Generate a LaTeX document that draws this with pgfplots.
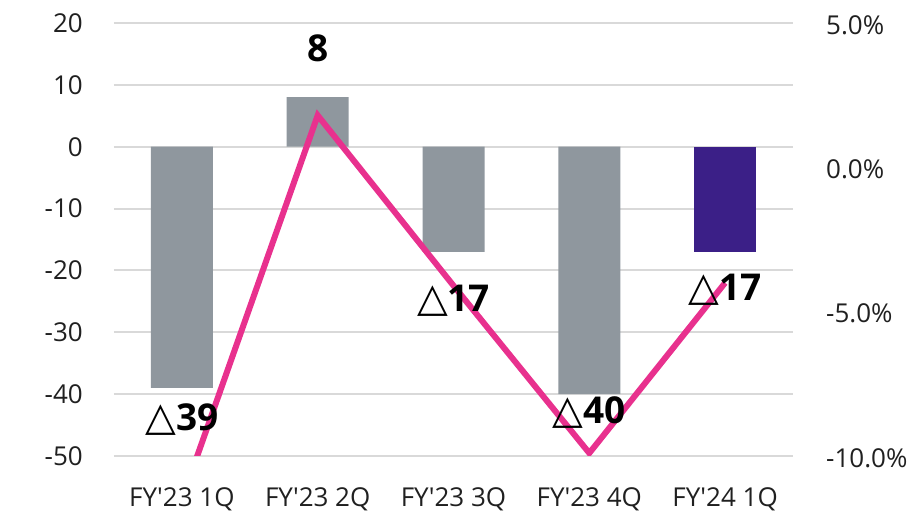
\documentclass[border=0pt]{standalone}
\usepackage{fontspec}
\setmainfont{Open Sans}
\newfontfamily\symfont{DejaVu Sans}
\usepackage{pgfplots}
\pgfplotsset{compat=1.18}
\usepackage{pgfplotstable}

\definecolor{barGray}{HTML}{8F979E}
\definecolor{barPurple}{HTML}{3B1F87}
\definecolor{linePink}{HTML}{E8318E}
\definecolor{gridGray}{HTML}{D9D9D9}
\definecolor{tickText}{HTML}{202020}

% white triangle used as the minus sign in the value labels
\protected\def\tri{{\fontsize{40bp}{40bp}\symfont △}}

% quarterly result (left axis)
\pgfplotstableread{
x y
0 -39
1 8
2 -17
3 -40
}\prevq
\pgfplotstableread{
x y
4 -17
}\curq
% ratio in percent (right axis)
\pgfplotstableread{
x y
0 -11.5
1 1.8
2 -4.1
3 -9.9
4 -4.0
}\ratio
% value labels with their vertical offsets in pt
\pgfplotstableread{
x y dy lab
0 -39 -32 {\tri39}
1 8 49 8
2 -17 -49 {\tri17}
3 -40 -18 {\tri40}
4 -17 -38 {\tri17}
}\labels

\pgfplotsset{
  common/.style={
    at={(0,0)}, anchor=south west,
    scale only axis, width=679bp, height=433bp,
    xmin=-0.5, xmax=4.5,
    axis line style={draw=none},
    major tick length=0pt,
    tick label style={font=\fontsize{26bp}{26bp}\selectfont, text=tickText},
  },
}

\begin{document}
\begin{tikzpicture}
\path[use as bounding box] (-114bp,-60bp) rectangle (796bp,456bp);

\begin{axis}[common,
  ymin=-50, ymax=20,
  ytick={-50,-40,-30,-20,-10,0,10,20},
  yticklabels={-50,-40,-30,-20,-10,0,10,20},
  yticklabel style={anchor=east, inner sep=0pt, xshift=-31bp},
  xtick={0,1,2,3,4},
  xticklabels={FY\textquotesingle23 1Q,FY\textquotesingle23 2Q,FY\textquotesingle23 3Q,FY\textquotesingle23 4Q,FY\textquotesingle24 1Q},
  xticklabel style={anchor=north, inner sep=0pt, yshift=-31bp},
  ymajorgrids, grid style={draw=gridGray, line width=2bp},
  ybar, bar width=62bp, bar shift=0pt,
]
\addplot[fill=barGray, draw=none] table[x=x, y=y]{\prevq};
\addplot[fill=barPurple, draw=none] table[x=x, y=y]{\curq};
\end{axis}

\begin{axis}[common,
  ymin=-10, ymax=5,
  hide x axis,
  ytick={-10,-5,0,5},
  yticklabels={-10.0\%,-5.0\%,0.0\%,5.0\%},
  yticklabel pos=right,
  yticklabel style={anchor=west, inner sep=0pt, xshift=33bp, yshift=-2bp},
]
\addplot[linePink, line width=6bp, line join=miter, mark=none] table[x=x, y=y]{\ratio};
\end{axis}

\begin{axis}[common,
  ymin=-50, ymax=20,
  hide axis, clip=false,
]
\addplot[draw=none, mark=none,
  point meta=explicit symbolic,
  visualization depends on={\thisrow{dy}\as\dy},
  nodes near coords={\pgfplotspointmeta},
  nodes near coords style={anchor=center, yshift=\dy, inner sep=0pt,
    font=\bfseries\fontsize{37bp}{37bp}\selectfont, text=black},
] table[x=x, y=y, meta=lab]{\labels};
\end{axis}
\end{tikzpicture}
\end{document}
